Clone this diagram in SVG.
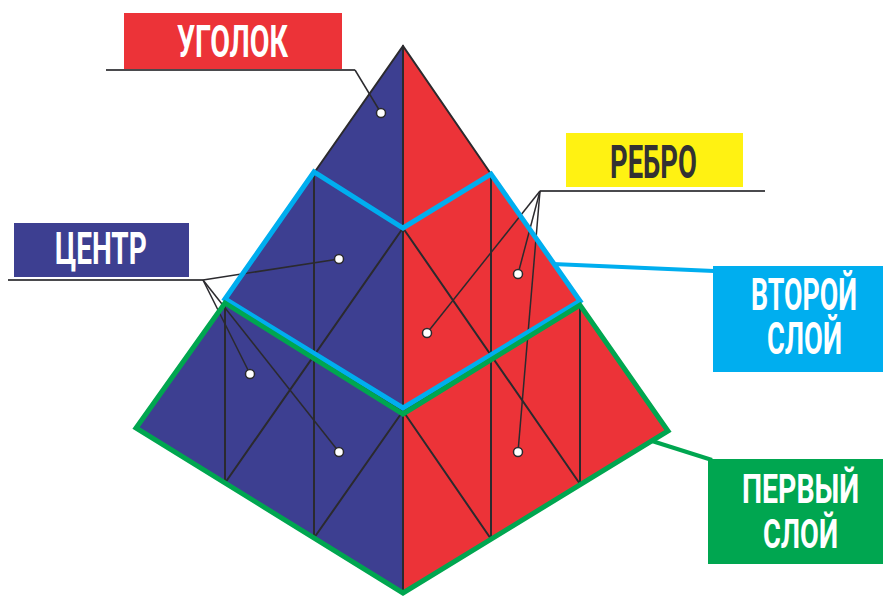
<svg xmlns="http://www.w3.org/2000/svg" width="883" height="597" viewBox="0 0 883 597">
  <style>
    .grid { stroke: #2b2a2e; stroke-width: 2; fill: none; stroke-linecap: round; }
    .lead { stroke: #2b2a2e; stroke-width: 1.5; fill: none; }
    .shelf { stroke: #4a4a4d; stroke-width: 2; fill: none; }
    .dot { fill: #ffffff; stroke: #2b2a2e; stroke-width: 1.5; }
    .lbl { font-family: "Roboto", "Liberation Sans", sans-serif; font-weight: 700; fill: #ffffff; }
  </style>

  <!-- Pyramid faces -->
  <g id="pyramid">
    <polygon points="403,46 136,428 403,593" fill="#3d3f91"/>
    <polygon points="403,46 668,430 403,593" fill="#ec3338"/>
    <!-- left face grid -->
    <line class="grid" x1="314" y1="173" x2="314" y2="538"/>
    <line class="grid" x1="225" y1="301" x2="225" y2="483"/>
    <line class="grid" x1="403" y1="228" x2="225" y2="483"/>
    <line class="grid" x1="403" y1="411" x2="314" y2="538"/>
    <line class="grid" x1="314" y1="173" x2="403" y2="228"/>
    <line class="grid" x1="225" y1="301" x2="403" y2="411"/>
    <!-- right face grid -->
    <line class="grid" x1="491" y1="174" x2="491" y2="539"/>
    <line class="grid" x1="580" y1="302" x2="580" y2="484"/>
    <line class="grid" x1="403" y1="228" x2="580" y2="484"/>
    <line class="grid" x1="403" y1="411" x2="491" y2="539"/>
    <line class="grid" x1="491" y1="174" x2="403" y2="228"/>
    <line class="grid" x1="580" y1="302" x2="403" y2="411"/>
    <!-- outline of the top and the shared edge -->
    <polyline class="grid" points="314,173 403,46 491,174"/>
    <line class="grid" x1="403" y1="46" x2="403" y2="593"/>
  </g>

  <!-- Leader lines -->
  <g id="connectors">
    <polyline class="shelf" points="106,70 355,70"/>
    <line class="lead" x1="355" y1="70" x2="381" y2="113"/>
    <polyline class="shelf" points="8,280 203,280"/>
    <line class="lead" x1="203" y1="280" x2="339" y2="259"/>
    <line class="lead" x1="203" y1="280" x2="250" y2="374"/>
    <line class="lead" x1="203" y1="280" x2="339" y2="452"/>
    <polyline class="shelf" points="540,191 765,191"/>
    <line class="lead" x1="540" y1="191" x2="427" y2="333"/>
    <line class="lead" x1="540" y1="191" x2="518" y2="274"/>
    <line class="lead" x1="540" y1="191" x2="518" y2="452"/>
    <line x1="553" y1="264" x2="714" y2="271" stroke="#00aeef" stroke-width="4"/>
    <line x1="652" y1="441" x2="712" y2="460" stroke="#00a650" stroke-width="4"/>
  </g>

  <!-- Layer outlines -->
  <g id="second-layer">
    <polygon points="225,299 314,172 403,228 491,174 580,301 403,408" fill="none" stroke="#00aeef" stroke-width="5" stroke-linejoin="miter"/>
  </g>
  <g id="first-layer">
    <polygon points="225,303 136,428 403,593 668,431 580,305 403,414" fill="none" stroke="#00a650" stroke-width="5" stroke-linejoin="miter"/>
  </g>

  <!-- Marker dots -->
  <g id="dots">
    <circle class="dot" cx="381" cy="113" r="4.5"/>
    <circle class="dot" cx="339" cy="259" r="4.5"/>
    <circle class="dot" cx="250" cy="374" r="4.5"/>
    <circle class="dot" cx="339" cy="452" r="4.5"/>
    <circle class="dot" cx="518" cy="274" r="4.5"/>
    <circle class="dot" cx="427" cy="333" r="4.5"/>
    <circle class="dot" cx="518" cy="452" r="4.5"/>
  </g>

  <!-- Labels (condensed by a horizontal scale) -->
  <g id="label-corner">
    <rect x="124" y="13" width="218" height="56" fill="#ec3338"/>
    <text class="lbl" transform="translate(177,57) scale(0.62,1)" font-size="45" textLength="179" lengthAdjust="spacingAndGlyphs">УГОЛОК</text>
  </g>
  <g id="label-center">
    <rect x="14" y="223" width="175" height="54" fill="#3d3f91"/>
    <text class="lbl" transform="translate(55,264) scale(0.62,1)" font-size="45" textLength="148" lengthAdjust="spacingAndGlyphs">ЦЕНТР</text>
  </g>
  <g id="label-edge">
    <rect x="566" y="133" width="177" height="54" fill="#fff212"/>
    <text class="lbl" transform="translate(610,178) scale(0.62,1)" font-size="46" textLength="140" lengthAdjust="spacingAndGlyphs" style="fill:#333132">РЕБРО</text>
  </g>
  <g id="label-second-layer">
    <rect x="713" y="266" width="170" height="106" fill="#00aeef"/>
    <text class="lbl" transform="translate(751,310) scale(0.62,1)" font-size="44" textLength="171" lengthAdjust="spacingAndGlyphs">ВТОРОЙ</text>
    <text class="lbl" transform="translate(767,354) scale(0.62,1)" font-size="44" textLength="121" lengthAdjust="spacingAndGlyphs">СЛОЙ</text>
  </g>
  <g id="label-first-layer">
    <rect x="708" y="459" width="175" height="105" fill="#00a650"/>
    <text class="lbl" transform="translate(742,503) scale(0.62,1)" font-size="41" textLength="189" lengthAdjust="spacingAndGlyphs">ПЕРВЫЙ</text>
    <text class="lbl" transform="translate(763,548) scale(0.62,1)" font-size="41" textLength="121" lengthAdjust="spacingAndGlyphs">СЛОЙ</text>
  </g>
</svg>
